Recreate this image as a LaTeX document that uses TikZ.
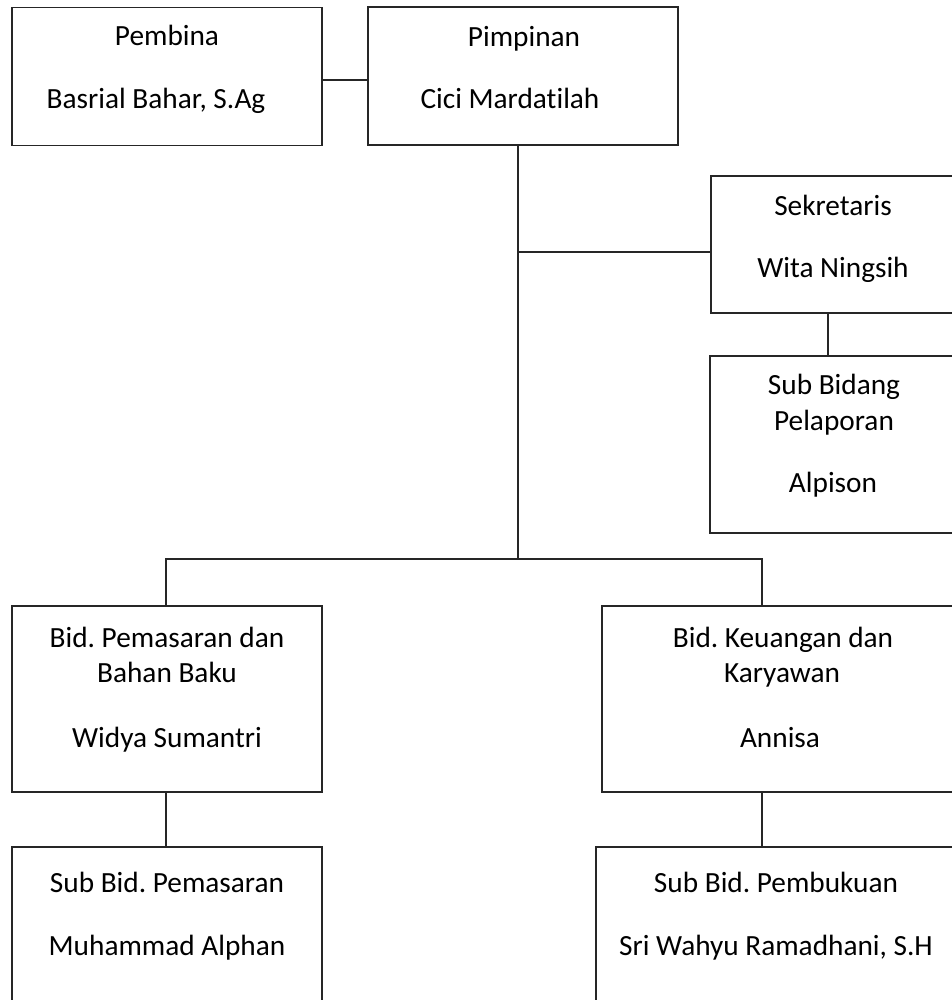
\documentclass[tikz,border=0pt]{standalone}
\usepackage{fontspec}
\setmainfont{Carlito}[Ligatures={NoCommon}]
\frenchspacing
\begin{document}
\begin{tikzpicture}[x=1bp,y=-1bp,
  box/.style={draw=black!85, line width=1.1bp, rectangle, inner sep=0pt},
  lbl/.style={anchor=base, inner sep=0pt, font=\fontsize{29.3bp}{35bp}\selectfont, text=black},
  link/.style={draw=black!85, line width=1.1bp}]
\useasboundingbox (0,0) rectangle (952,1000);
\clip (0,0) rectangle (952,1000);
% boxes
\node[box, minimum width=310bp, minimum height=138.4bp] (pembina) at (167,76.5) {};
\node[box, minimum width=310bp, minimum height=138bp] (pimpinan) at (523,76) {};
\node[box, minimum width=244bp, minimum height=137bp] (sekretaris) at (833,244.5) {};
\node[box, minimum width=245bp, minimum height=177bp] (pelaporan) at (832.5,444.5) {};
\node[box, minimum width=310bp, minimum height=186bp] (pemasaran) at (167,699) {};
\node[box, minimum width=362bp, minimum height=186bp] (keuangan) at (783,699) {};
\node[box, minimum width=310bp, minimum height=163bp] (subpem) at (167,928.5) {};
\node[box, minimum width=360bp, minimum height=163bp] (pembukuan) at (776,928.5) {};
% texts
\node[lbl] (t1a) at (167,45.7) {Pembina};
\node[lbl] (t1b) at (156,108) {Basrial Bahar, S.Ag};
\node[lbl] (t2a) at (524,46) {Pimpinan};
\node[lbl] (t2b) at (510,108) {Cici Mardatilah};
\node[lbl] (t3a) at (833,215) {Sekretaris};
\node[lbl] (t3b) at (833,277) {Wita Ningsih};
\node[lbl] (t4a) at (834,394) {Sub Bidang};
\node[lbl] (t4b) at (834,430) {Pelaporan};
\node[lbl] (t4c) at (833,492) {Alpison};
\node[lbl] (t5a) at (167,647) {Bid. Pemasaran dan};
\node[lbl] (t5b) at (167,682) {Bahan Baku};
\node[lbl] (t5c) at (167,747) {Widya Sumantri};
\node[lbl] (t6a) at (783,647) {Bid. Keuangan dan};
\node[lbl] (t6b) at (782,682) {Karyawan};
\node[lbl] (t6c) at (780,747) {Annisa};
\node[lbl] (t7a) at (167,892) {Sub Bid. Pemasaran};
\node[lbl] (t7b) at (167,955) {Muhammad Alphan};
\node[lbl] (t8a) at (776,892) {Sub Bid. Pembukuan};
\node[lbl] (t8b) at (776,955) {Sri Wahyu Ramadhani, S.H};
% junction coordinates
\coordinate (jtop) at (518,80);
\coordinate (jsek) at (518,252);
\coordinate (trunk) at (518,559);
\coordinate (jleft) at (166,559);
\coordinate (jright) at (762,559);
% connectors
\draw[link] (pembina.east |- jtop) -- (pimpinan.west |- jtop);
\draw[link] (pimpinan.south -| trunk) -- (trunk);
\draw[link] (jsek) -- (sekretaris.west |- jsek);
\draw[link] (sekretaris.south -| 828,0) -- (pelaporan.north -| 828,0);
\draw[link] (pemasaran.north -| jleft) -- (jleft) -- (jright) -- (keuangan.north -| jright);
\draw[link] (pemasaran.south -| jleft) -- (subpem.north -| jleft);
\draw[link] (keuangan.south -| jright) -- (pembukuan.north -| jright);
\end{tikzpicture}
\end{document}
